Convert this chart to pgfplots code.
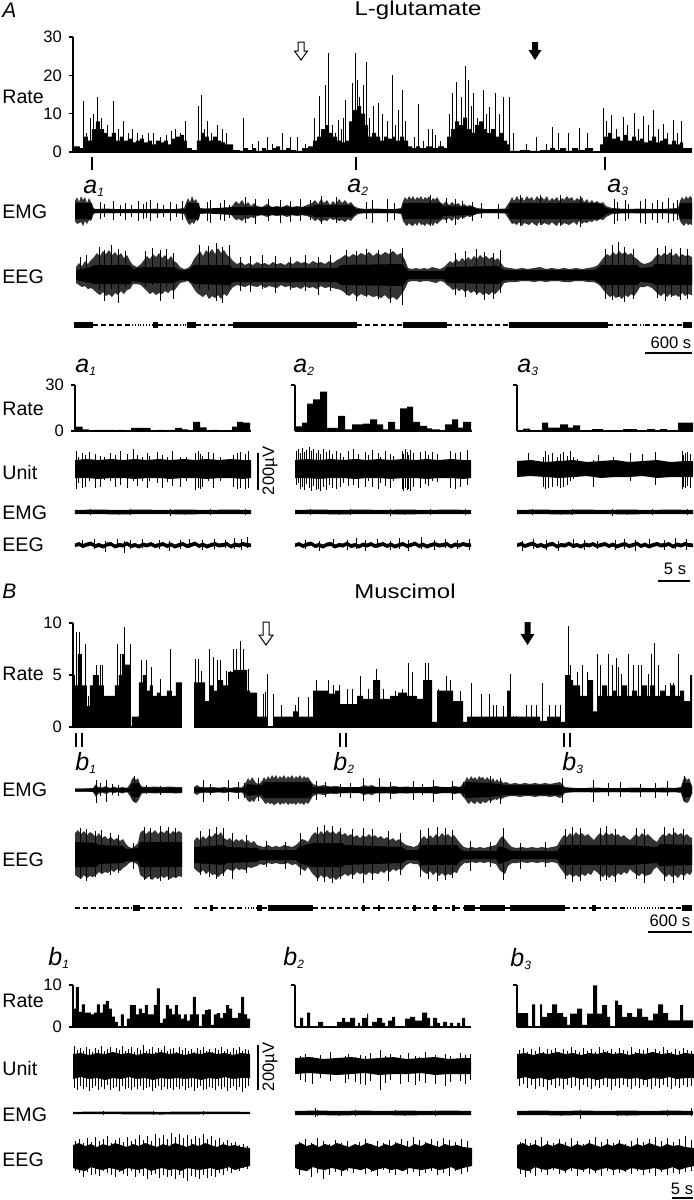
\documentclass[border=0pt]{standalone}
\usepackage{fontspec}
\setmainfont{Liberation Sans}
\usepackage{pgfplots}
\usepackage{pgfplotstable}
\pgfplotsset{compat=1.18}

\newcommand\tkf{\fontsize{8.3}{10}\selectfont}
\newcommand\lab{\fontsize{9.8}{12}\selectfont}
\newcommand\sub[2]{{\fontsize{12.5}{14}\selectfont\itshape #1}\raisebox{-1.5pt}{\fontsize{6}{7}\selectfont\itshape #2}}
\def\pxu{0.5pt}

\pgfplotsset{
  base/.style={scale only axis, clip=false, enlargelimits=false, x=0.5pt, y=0.5pt, hide axis},
  spk/.style={draw=none, mark=none, error bars/.cd, y dir=both, y explicit, error mark=none,
    error bar style={draw=black, solid, line width=0.45pt}},
  hspk/.style={draw=none, mark=none, error bars/.cd, y dir=plus, y explicit, error mark=none,
    error bar style={draw=black, solid, line width=0.45pt}},
  hist/.style={scale only axis, clip=false, enlargelimits=false, x=0.5pt,
    axis x line*=bottom, axis y line*=left, xtick=\empty,
    tick align=outside, major tick length=2pt,
    axis line style={-, line width=0.6pt, black}, x axis line style={-}, y axis line style={-},
    tick style={line width=0.6pt, black},
    /pgf/number format/assume math mode=true,
    yticklabel style={font=\tkf}},
}

% trace: #1 left px, #2 width px, #3 centre y px, #4 half range, #5 body (x u l), #6 spikes (x u d)
\newcommand\trc[6]{%
\begin{axis}[base, at={(#1*\pxu,-#3*\pxu)}, anchor=west, xmin=0, xmax=#2, ymin=-#4, ymax=#4]
\addplot[fill=black, draw=none] table[x=x,y=u]{#5} \closedcycle;
\addplot[fill=black, draw=none] table[x=x,y=l]{#5} \closedcycle;
\addplot[spk] table[x=x, y expr=0, y error plus=u, y error minus=d]{#6};
\end{axis}}
% long trace: hairy envelope #5 (dark grey), solid core #6, spikes #7
\newcommand\trcc[7]{%
\begin{axis}[base, at={(#1*\pxu,-#3*\pxu)}, anchor=west, xmin=0, xmax=#2, ymin=-#4, ymax=#4]
\addplot[fill=black!80, draw=none] table[x=x,y=u]{#5} \closedcycle;
\addplot[fill=black!80, draw=none] table[x=x,y=l]{#5} \closedcycle;
\addplot[fill=black, draw=none] table[x=x,y=u]{#6} \closedcycle;
\addplot[fill=black, draw=none] table[x=x,y=l]{#6} \closedcycle;
\addplot[spk] table[x=x, y expr=0, y error plus=u, y error minus=d]{#7};
\end{axis}}

% ---------------- panel A, long records ----------------
\pgfplotstableread{
x r
73 1.5
80 1
84 4
88 3
92 6
96 8
100 6
104 5
108 4
112 5
116 3
120 4
124 3
128 3.5
132 2.5
136 3
140 3.5
144 2.5
148 3
152 2
156 3
160 2.5
164 3
168 2
172 3.5
176 4
180 4.5
184 3
187 1
192 0.5
197 3
201 5
205 4
209 3
213 4
217 3
221 2.5
225 2
229 2
233 0.5
240 0.3
244 1
248 0.5
252 1
256 0.3
262 1
266 0.5
272 1
276 1.5
280 0.5
286 1
290 0.5
296 0.3
302 1
308 1.5
313 3
317 4
321 6
325 7
329 5
333 4
337 3
341 2.5
345 3
349 8
353 11
357 12
361 10
365 7
368 4
372 5
376 4
380 3
384 4
388 3.5
392 4
396 3
400 4
404 3
408 1.5
412 1
416 1.5
420 1
426 1.5
432 1
438 1.5
444 1
447 4
451 6
455 8
459 7
463 9
467 6
471 5
475 7
479 8
483 6
487 5
491 6
495 4
499 5
503 3
507 2
510 0.3
520 0.5
530 0.3
540 0.5
550 1
555 0.5
560 1
566 0.3
572 1
578 0.5
585 1
593 0.2
600 2
604 4
608 5
612 3.5
616 4
620 3
624 4.5
628 3
632 4
636 3
640 3.5
644 2.5
648 3
652 4
656 2.5
660 3
664 3.5
668 2
672 3
676 2
680 2.5
683 1
692 1
}\Arm
\pgfplotstableread{
x r
83 13.4
86 5
90 9
93 10
97 14.3
101 9
107 7
113 13.4
118 6
123 8
128 5
132 6
137 5
142 4.5
148 5
153 5
160 4
166 4.5
171 5.5
175 6
180 5
185 8
198 12
201 15
204 6
207 8
211 5
217 7
222 6
226 5
243 9
252 2
258 3
267 4
272 2
282 5
290 4
297 4
305 2
314 9
319 14.5
323 6
325 17.5
328 25.7
332 7
335 5
338 8.3
341 6
343 9
345 13.6
352 18
355 25.7
357 18.8
359 14.4
363 17.5
366 23.6
369 9
373 12
378 12.7
382 10
387 8
392 20
395 7
398 11
402 16.3
405 8
414 4
418 12.5
423 3
428 6
432 6
435 4.4
440 3
449 10
452 15.3
456 18.3
461 14.4
465 22.4
468 18.8
471 12
473 15.3
477 9
483 16.3
486 10
489 11.8
495 15.3
499 10
503 14.4
509 14.4
513 4.9
526 2
536 4
546 2
552 6.4
558 5
568 5
579 6.3
587 5
603 11.6
606 8
611 9.7
616 6
623 9.2
627 7
634 10.3
638 6
643 9.4
648 7
653 11
658 6
663 7.3
667 5
673 8.3
677 5
681 8
}\Ars

\pgfplotstableread{
x u l
75 10 -10
77 14 -13
79 9 -12
81 15 -11
83 11 -15
85 14 -10
87 8 -13
89 13 -9
91 9 -10
93 4 -4
95 2 -2
105 2.5 -2
115 2 -2
125 1.5 -1.5
135 2 -2
145 1.5 -1.5
155 2.5 -2.5
165 1.5 -1.5
175 2 -2
184 3 -3
186 8 -8
188 13 -12
190 9 -14
192 15 -11
194 10 -13
196 12 -9
198 7 -10
200 3 -3
210 2 -2
220 2 -2
230 2.5 -2.5
233 6 -6
236 10 -9
239 7 -8
242 11 -10
245 6 -7
248 9 -8
251 5 -6
254 8 -7
257 5 -5
262 4 -4
267 7 -6
272 4 -4
277 5 -5
282 4 -4
287 6 -6
292 4 -4
297 5 -5
302 4 -4
307 6 -5
312 8 -7
315 11 -10
318 7 -8
321 12 -11
324 8 -9
327 11 -10
330 6 -7
333 10 -9
336 7 -8
339 12 -10
342 8 -9
345 11 -11
348 7 -8
351 9 -10
354 5 -6
358 3 -3
365 2 -2
375 2.5 -2
385 2 -2
395 2 -2
401 3 -3
403 10 -10
405 14 -13
407 11 -15
409 15 -12
411 12 -14
413 15 -15
415 11 -12
417 14 -15
419 12 -11
421 15 -14
423 11 -13
425 14 -15
427 12 -12
429 15 -14
431 10 -12
433 13 -15
435 11 -11
437 14 -13
440 9 -10
443 7 -8
446 10 -9
449 6 -7
452 9 -10
455 6 -6
458 8 -9
461 5 -6
464 7 -7
467 5 -5
470 6 -6
474 4 -4
477 3 -3
485 2 -2
495 2 -2
505 2.5 -2.5
510 10 -10
512 14 -13
514 10 -12
517 15 -14
519 11 -11
522 14 -15
524 10 -12
527 15 -13
529 12 -14
532 14 -11
534 10 -13
537 15 -15
539 12 -11
542 14 -14
544 11 -12
547 15 -13
549 10 -14
552 13 -11
554 11 -13
557 14 -15
559 10 -11
562 13 -14
564 11 -12
567 15 -13
569 12 -14
572 14 -12
574 10 -11
577 13 -14
579 11 -10
582 14 -13
584 9 -11
587 12 -12
589 8 -10
592 11 -11
594 8 -9
597 10 -10
600 7 -8
603 9 -9
606 5 -6
612 3 -3
620 2.5 -2.5
630 2 -2
640 2.5 -2.5
650 2 -2
660 2 -2
670 2.5 -2.5
678 3 -3
680 10 -10
682 14 -13
684 11 -15
686 15 -12
688 12 -14
690 15 -13
692 13 -14
}\AemgB
\pgfplotstableread{
x u l
75 8 -8
92 8 -8
93 2 -2
186 2 -2
187 8 -8
199 8 -8
200 2 -2
233 4 -4
312 4 -4
315 6 -6
352 6 -6
356 2 -2
402 2 -2
403 8 -8
440 8 -8
443 5 -5
474 4 -4
477 2 -2
508 2 -2
510 8 -8
600 8 -8
606 3 -3
612 2 -2
679 2 -2
680 8 -8
692 8 -8
}\AemgC
\pgfplotstableread{
x u d
100 9 8
104 7 6
113 10 9
120 6 5
125 8 9
131 6 6
138 10 10
143 7 8
146 9 7
150 11 10
157 8 7
163 6 6
170 9 10
176 7 6
182 10 9
207 9 10
210 11 12
220 8 9
224 11 10
229 6 7
245 14 12
255 12 13
268 12 10
280 11 12
290 10 11
300 12 10
310 11 9
321 15 13
336 14 12
366 9 8
372 11 12
387 12 11
394 8 9
430 16 15
446 13 12
455 12 14
462 10 8
472 9 10
481 8 7
498 7 8
520 16 15
540 16 14
560 16 15
580 15 16
614 12 13
617 9 10
625 11 10
628 7 8
640 10 12
645 12 13
652 8 9
657 11 12
662 9 8
668 13 12
673 8 10
677 11 9
}\AemgS

\pgfplotstableread{
x u l
76 8 -8
79 12 -10
82 9 -12
85 14 -11
88 11 -14
91 15 -13
94 18 -15
97 22 -18
100 19 -20
103 24 -17
106 21 -21
109 25 -19
112 20 -22
115 23 -18
118 19 -20
121 22 -16
124 17 -19
127 20 -15
130 14 -14
133 10 -9
137 8 -9
141 11 -10
144 15 -13
147 19 -16
150 16 -19
153 21 -17
156 18 -20
159 22 -18
162 17 -19
165 20 -16
168 15 -18
171 19 -15
174 14 -16
177 12 -12
180 8 -8
184 6 -7
188 7 -6
191 10 -9
194 16 -14
197 20 -18
200 24 -20
203 19 -22
206 25 -19
209 22 -24
212 26 -21
215 21 -23
218 27 -20
221 22 -24
224 25 -19
227 20 -21
230 18 -16
233 14 -12
237 11 -10
241 13 -11
245 10 -12
249 12 -10
253 10 -11
257 13 -12
261 11 -10
265 12 -13
269 10 -11
273 13 -12
277 11 -13
281 12 -10
285 10 -12
289 13 -11
293 11 -13
297 14 -12
301 12 -14
305 13 -11
309 11 -13
313 14 -12
317 12 -14
321 13 -11
325 11 -13
329 14 -12
333 12 -13
337 15 -14
341 17 -15
345 20 -18
349 18 -21
353 21 -18
357 19 -22
361 22 -19
365 20 -21
369 23 -20
373 19 -22
377 22 -21
381 20 -23
385 23 -20
389 21 -24
393 24 -22
397 20 -25
401 22 -20
405 15 -14
408 7 -7
412 6 -6
416 7 -6
420 6 -7
424 7 -6
428 6 -6
432 8 -7
436 7 -8
440 6 -6
444 8 -7
447 11 -10
450 14 -12
453 12 -15
456 16 -13
459 13 -16
462 17 -14
465 14 -17
468 18 -15
471 15 -18
474 19 -16
477 16 -19
480 20 -17
483 17 -20
486 19 -18
489 16 -20
492 18 -17
495 15 -19
498 17 -16
501 12 -13
504 8 -8
510 7 -7
516 6 -7
522 7 -6
528 6 -6
534 7 -7
540 8 -6
546 6 -7
552 7 -6
558 6 -6
564 7 -7
570 6 -7
576 7 -6
582 6 -6
588 7 -7
594 8 -7
598 10 -9
601 14 -12
604 18 -16
607 21 -19
610 19 -22
613 23 -20
616 20 -23
619 24 -21
622 21 -24
625 23 -20
628 20 -22
631 22 -19
634 18 -21
637 16 -17
640 13 -12
644 11 -12
648 12 -11
652 14 -13
655 18 -16
658 21 -19
661 19 -21
664 22 -18
667 20 -22
670 23 -19
673 19 -21
676 22 -20
679 18 -22
682 21 -18
685 19 -21
688 20 -19
692 18 -20
}\AeegB
\pgfplotstableread{
x u l
76 5 -5
91 8 -8
94 10 -9
130 10 -9
133 6 -6
144 8 -8
174 8 -8
180 5 -5
188 5 -5
194 10 -9
230 10 -10
233 7 -7
337 7 -7
341 10 -10
402 11 -11
405 8 -8
408 4 -4
444 4 -4
447 8 -8
498 9 -9
504 5 -5
594 5 -5
598 7 -7
601 10 -10
637 10 -10
640 7 -7
652 8 -8
655 11 -10
692 10 -10
}\AeegC
\pgfplotstableread{
x u d
80 18 6
86 20 8
99 28 15
104 25 26
111 30 14
118 26 28
125 24 12
145 24 12
152 27 10
160 25 26
166 26 12
173 22 24
199 30 14
208 29 15
216 32 26
222 28 28
229 30 12
240 18 16
250 19 17
262 20 14
275 19 18
290 18 15
305 20 16
318 18 20
330 20 16
346 25 20
356 24 26
366 26 22
378 25 24
390 26 28
402 27 30
455 22 20
465 24 22
476 26 20
484 23 25
493 22 24
500 25 18
605 26 24
612 30 25
618 33 22
624 28 27
633 26 24
657 27 23
665 29 26
671 26 22
680 27 25
687 26 24
}\AeegS

% ---------------- panel A, expanded records (x relative, px) ----------------
\pgfplotstableread{
x r
1 2.8
7.5 1
14 0
20 0.7
26.5 0.7
33 0.7
39.5 0
42 0.7
48 0
56 2
62.5 2
69 2
75.5 0
82 0.7
88.5 0
95 0.7
100 2
107 1
113 0
118 6
125 2.4
131.5 0
137 0.7
143.5 0
157 2.8
162 6
168 5.4
175 5.4
}\haI
\pgfplotstableread{
x r
0 3
7 5.4
12 17.8
18 20.6
25 25.7
32 2
43 9.8
50 1
57 4.3
68 4.8
75 7.6
82 4.3
88 1
93 5.9
100 1
105 14.8
112 15.9
118 5.9
125 3.3
132 1.7
137 1
145 0.4
150 4.3
157 7.6
163 2.2
168 5.9
176 5.9
}\haII
\pgfplotstableread{
x r
0 0
6 1.5
13 0
25 5.4
31 2.2
43 4.3
51 2.2
56 3.7
63 0
75 1.3
86 0
106 1.3
120 0
130 1.3
138 0
143 1.3
150 0
161 5.4
176 5.4
}\haIII

\pgfplotstableread{
x u l
0 9 -9
12 10 -9
24 9 -10
36 10 -9
48 9 -9
60 10 -10
72 9 -9
84 10 -9
96 9 -10
108 10 -9
120 9 -9
132 10 -10
144 9 -9
156 10 -9
168 9 -10
176 9 -9
}\UbA
\pgfplotstableread{
x u l
0 8 -8
14 9 -7
28 7 -8
42 8 -9
56 9 -8
70 7 -7
84 8 -9
98 9 -8
112 7 -8
126 8 -7
140 9 -9
154 7 -8
168 8 -8
176 8 -8
}\UbC
\pgfplotstableread{
x u d
1 18 20
3 12 14
7 16 19
10 14 18
14 17 12
20 15 19
25 13 18
29 12 11
35 16 12
40 14 18
45 18 16
52 15 19
58 20 12
62 14 17
67 12 12
72 16 19
74 13 12
82 17 14
87 14 19
92 12 13
97 18 17
105 12 18
111 12 12
120 16 21
123 18 19
125 15 20
127 13 18
133 17 12
138 16 19
145 12 12
158 14 18
162 16 20
165 17 19
170 15 20
173 18 19
}\UsAi
\pgfplotstableread{
x u d
1 18 16
3 20 14
5 16 20
7 21 18
9 17 21
11 19 15
14 22 19
16 18 22
18 20 17
21 16 21
23 19 20
25 15 22
28 20 18
31 17 21
34 19 16
37 15 19
41 18 20
45 16 18
48 12 14
53 18 17
58 20 16
63 15 19
70 17 18
73 14 12
77 19 18
83 16 20
85 12 14
90 18 17
95 15 19
98 13 12
107 18 20
108 15 22
110 20 19
112 17 21
113 14 20
115 19 22
118 16 18
125 17 19
130 18 15
133 14 17
137 17 12
142 15 13
155 18 19
160 16 20
165 17 18
172 19 16
}\UsAii
\pgfplotstableread{
x u d
11 16 6
26 12 18
28 18 20
31 14 19
35 16 18
40 12 17
43 15 19
46 17 18
50 13 16
53 18 12
56 12 10
60 10 8
76 9 18
81 14 6
96 12 5
113 16 12
125 15 6
138 17 16
165 18 20
166 14 18
168 16 19
170 17 17
173 15 19
}\UsAiii

\pgfplotstableread{
x u l
0 2 -2
22 2.5 -2
44 2 -2.5
66 2.5 -2
88 2 -2
110 2.5 -2.5
132 2 -2
154 2.5 -2
176 2 -2
}\EbA
\pgfplotstableread{
x u d
15 3 3
55 3.5 3
95 3 3.5
135 3.5 3
170 3 3
}\EsA

\pgfplotstableread{
x u l
0 1.5 -2
4 3 -1
8 1 -3
12 2.5 -1.5
16 3.5 -0.5
20 1 -3
24 2 -2
28 0.5 -3.5
32 2.5 -1.5
36 3 -1
40 0.5 -3.5
44 2 -2
48 1.5 -2.5
52 3.5 -0.5
56 1 -3
60 2 -2
64 0.5 -3.5
68 2.5 -1.5
72 1.5 -2.5
76 3 -1
80 1 -3
84 2 -2
88 3 -1
92 1 -3
96 2.5 -1.5
100 0.5 -3.5
104 2 -2
108 3 -1
112 1 -3
116 2 -2
120 3.5 -0.5
124 1 -3
128 2.5 -1.5
132 0.5 -3.5
136 2 -2
140 3 -1
144 1.5 -2.5
148 2 -2
152 3 -1
156 0.5 -3.5
160 2.5 -1.5
164 1.5 -2.5
168 3 -1
172 2 -2
176 1.5 -2
}\GbA
\pgfplotstableread{
x u d
7 5 3
19 6 4
30 4 7
42 6 3
49 4 8
55 5 4
67 6 3
84 5 4
94 4 6
105 5 4
114 6 3
127 5 5
139 6 4
150 5 3
159 7 4
166 6 5
172 8 3
}\GsAi
\pgfplotstableread{
x u d
10 5 4
24 4 6
38 6 3
52 5 5
61 7 4
70 5 6
82 6 3
95 4 5
104 7 4
113 5 6
126 8 4
139 5 5
150 6 3
162 5 4
174 6 5
}\GsAii
\pgfplotstableread{
x u d
5 4 6
16 6 4
29 5 5
41 4 6
56 6 3
67 5 5
80 4 4
98 5 5
107 6 4
118 5 6
132 6 3
147 5 5
158 7 4
169 6 5
}\GsAiii

% ---------------- panel B, long records ----------------
\pgfplotstableread{
x r
73 5
75 4
78 7
82 4
87 2
90 4
93 5
96 5
99 4
102 4
104 3
107 3
111 3
115 4
119 5
122 7
125 6
130 0
132 1
139 4.3
143 5
147 3.5
150 4
153 3
157 3.3
161 3
164 3
167 3.5
172 3
176 4.3
182 4.3
}\BrmI
\pgfplotstableread{
x r
73.5 9.9
76.5 9.1
79 9.1
80.5 7
85 8
88 3
96.5 6
100 6
102.5 6
117 8
120 7
124 9.6
130 8
141.5 6.4
146.5 6.4
151.5 5.8
160 4.6
170.5 7.5
}\BrsI
\pgfplotstableread{
x r
194 4.3
200 4.3
205 2.5
209 4
213 3.5
218 4.5
223 4
228 5.3
233 5.5
240 5.5
247 3.5
250 3.3
257 1
263 1
267 0
273 1
280 1
293 1.5
298 1
302 1
313 3.5
320 3.5
328 3.2
335 3.5
340 2.2
348 2.2
357 3
363 2.7
368 2.7
373 4.5
380 2.7
390 3
398 3.3
407 3
417 2.7
423 4.5
432 0.5
437 3.5
445 3.5
453 2.5
463 0.5
467 1
477 1
487 1
497 1
507 3.5
510 1
523 1
540 0.6
547 1
553 1
560 0.5
565 5
570 4.5
573 4
580 3
587 4.5
593 1.5
597 3
602 4
607 3
612 3.5
617 3
622 4
627 3
632 3.5
637 3
642 4
647 3
650 4
655 3
660 3.5
665 3
670 4
675 3
680 3.5
684 2.5
690 5
692 5
}\BrmII
\pgfplotstableread{
x r
195 6.5
198 6.5
201.5 5.4
209.5 7.5
213 6.7
217 6.4
220 6.4
226.5 5.4
230 5.4
233.5 7.5
236.5 7.5
240 8.3
243.5 7.5
248 5.6
263.5 3.2
265 3.4
267.5 5.1
273.5 3.2
281.5 2.1
295 2.1
298 2.9
308 2.9
316.5 4.5
328 4.5
333 4
339.5 4
347 3.7
352 3.7
360 4.9
368 3.7
376.5 5.6
383 3.7
395 3.5
402 3.7
408 6.2
412.5 5.3
425 6.2
428 6.2
438 3.7
446 4.9
450 4.5
460.5 3.5
471.5 4.2
481.5 3.2
489 3.2
493 2.1
496.5 2.1
503 2
510 5.1
513 1.1
516.5 1.1
526.5 2.1
531.5 2.1
536.5 2.1
542.7 4.2
549 2.1
555 2.1
560 2.1
568 9.7
570 6
577.5 5.3
582.5 6
587.5 5.3
597.5 7
600 6
608.5 7
612.5 6
616.5 6.6
618.5 5.8
621.5 5.1
628 7
633.5 6
638.5 6
641.5 6
648.5 5.1
651.5 7
654 8.1
658.5 6
665 4
670 4.2
673 4.2
678 7
683.5 2.1
}\BrsII

\pgfplotstableread{
x u l
75 1.5 -1.5
85 1.5 -1.5
93 2 -2
96 6 -7
98 3 -4
102 2.5 -2.5
106 4 -4
110 2 -2
114 3.5 -3
118 2 -2
122 3 -3.5
127 2 -2
130 6 -6
132 11 -10
134 13 -12
136 10 -13
138 12 -11
140 6 -7
142 3.5 -3.5
148 3 -3
155 3.5 -3.5
162 3 -3
170 3.5 -3
176 3 -3.5
182 3 -3
}\BemgBi
\pgfplotstableread{
x u l
75 1.5 -1.5
93 1.5 -1.5
96 4 -4
98 2 -2
130 2 -2
132 7 -7
139 7 -7
141 2.5 -2.5
182 2.5 -2.5
}\BemgCi
\pgfplotstableread{
x u d
96 10 13
100 7 6
106 10 12
112 6 5
118 5 6
134 14 12
146 5 4
160 4 5
}\BemgSi
\pgfplotstableread{
x u l
194 3 -3
197 5 -5
200 3 -3
206 2.5 -2.5
212 3 -3
218 2 -2
224 3 -3
230 2 -2
236 3 -3
242 2.5 -2.5
246 8 -8
248 12 -11
250 9 -12
252 13 -10
254 10 -12
256 7 -8
259 6 -6
262 9 -9
264 13 -12
266 10 -14
268 14 -12
270 11 -14
272 15 -13
274 12 -15
276 15 -14
278 11 -12
280 14 -15
282 12 -13
284 15 -14
286 11 -12
288 14 -15
290 12 -13
292 15 -14
294 11 -13
296 14 -15
298 12 -12
300 15 -14
302 11 -13
304 14 -15
306 12 -12
308 13 -14
310 10 -11
313 6 -6
318 4 -4
324 5 -5
330 3.5 -3.5
336 4 -4
342 3 -3
348 3 -3
354 2.5 -2.5
360 3 -3
364 5 -5
368 4 -4
372 5 -5
376 3 -3
382 3.5 -3.5
388 3 -3
394 4 -4
400 3 -3
406 3.5 -3.5
412 3 -3
418 2.5 -2.5
424 3 -3
430 3 -3
436 4 -4
442 3 -3
448 2.5 -2.5
454 4 -4
460 3 -3
465 9 -9
467 13 -12
469 10 -14
471 14 -11
473 11 -13
475 13 -14
477 10 -11
479 14 -13
481 12 -14
483 13 -11
485 10 -13
487 13 -12
489 11 -10
491 9 -11
493 12 -10
495 8 -9
497 11 -10
499 8 -8
501 10 -9
503 7 -8
506 8 -7
510 6 -6
515 7 -6
520 6 -7
525 7 -6
530 6 -6
535 7 -7
540 6 -6
545 7 -6
550 6 -7
555 7 -6
560 8 -8
565 3 -3
575 2 -2
585 2 -2
595 2.5 -2.5
605 2 -2
615 2 -2
625 2 -2
635 2.5 -2.5
645 2 -2
655 2 -2
665 2.5 -2.5
675 2 -2
681 3 -3
683 10 -10
685 13 -12
687 10 -13
689 12 -11
692 4 -4
}\BemgBii
\pgfplotstableread{
x u l
194 2.5 -2.5
245 2 -2
247 6 -6
256 5 -5
262 5 -5
264 8 -8
310 8 -8
313 3 -3
464 3 -3
466 8 -8
490 7 -7
506 5 -5
560 5 -5
565 2 -2
681 2 -2
683 7 -7
690 7 -7
692 3 -3
}\BemgCii
\pgfplotstableread{
x u d
203 10 12
210 6 5
228 10 11
238 8 9
244 7 8
258 12 11
316 9 10
325 8 7
340 6 7
350 7 8
363 12 11
379 12 12
390 8 9
413 9 10
422 6 5
433 10 12
452 9 10
463 8 7
490 14 13
500 12 14
562 12 13
593 10 12
608 7 6
620 8 7
640 6 7
655 7 8
667 9 6
684 14 12
}\BemgSii

\pgfplotstableread{
x u l
75 22 -20
78 25 -22
81 21 -24
84 24 -20
87 20 -23
90 23 -21
93 21 -22
96 18 -20
99 22 -17
102 17 -19
105 19 -17
108 16 -18
111 18 -15
114 15 -17
117 17 -14
120 14 -16
123 16 -13
126 11 -11
129 8 -8
132 7 -7
135 9 -8
138 12 -10
140 22 -20
143 25 -22
146 21 -24
149 24 -21
152 22 -25
155 25 -22
158 21 -24
161 24 -21
164 22 -23
167 25 -21
170 21 -24
173 24 -22
176 22 -23
179 24 -21
182 22 -22
}\BeegBi
\pgfplotstableread{
x u l
75 13 -12
96 12 -12
99 10 -9
123 9 -8
126 6 -6
138 7 -6
140 13 -12
182 13 -12
}\BeegCi
\pgfplotstableread{
x u d
80 27 24
86 26 26
95 24 22
101 25 18
110 22 20
118 20 18
133 12 14
144 28 25
150 27 24
160 29 26
168 28 25
175 27 22
}\BeegSi
\pgfplotstableread{
x u l
194 14 -13
197 18 -16
200 15 -18
203 19 -15
206 16 -19
209 20 -16
212 18 -20
215 22 -19
218 20 -22
221 23 -19
224 17 -18
227 15 -14
230 17 -15
233 13 -16
236 16 -13
239 14 -15
242 16 -14
245 13 -15
248 15 -12
251 12 -13
254 14 -12
257 10 -11
260 9 -9
264 8 -10
268 10 -8
272 8 -9
276 9 -8
280 8 -9
284 10 -9
288 9 -8
292 8 -10
296 10 -9
299 13 -12
302 16 -14
305 15 -16
308 13 -12
312 20 -18
315 23 -21
318 20 -24
321 24 -20
324 21 -23
327 25 -21
330 22 -24
333 24 -22
336 21 -25
339 24 -22
342 20 -21
345 22 -19
348 19 -21
351 21 -19
354 18 -20
357 20 -17
360 17 -19
363 20 -18
366 18 -20
369 21 -17
372 18 -19
375 20 -18
378 17 -19
381 19 -16
384 16 -18
387 18 -15
390 15 -17
393 17 -14
396 14 -16
399 16 -14
402 13 -15
406 10 -10
410 9 -8
414 8 -9
418 10 -9
421 16 -14
424 19 -17
427 16 -19
430 20 -16
433 17 -20
436 21 -17
439 18 -21
442 22 -18
445 19 -21
448 21 -19
451 18 -20
454 20 -17
457 16 -18
460 12 -12
464 8 -8
468 7 -8
472 8 -7
476 7 -8
480 8 -7
484 7 -8
488 8 -7
492 9 -8
496 10 -9
499 15 -14
502 19 -17
505 16 -19
508 12 -11
512 8 -8
517 7 -8
522 8 -7
527 7 -8
532 8 -7
537 7 -8
542 8 -7
547 7 -8
552 8 -7
557 9 -8
561 16 -14
564 20 -18
567 18 -21
570 22 -19
573 19 -22
576 23 -20
579 20 -22
582 22 -19
585 19 -21
588 21 -18
591 18 -20
594 15 -15
597 19 -17
600 22 -20
603 19 -22
606 23 -19
609 20 -23
612 22 -20
615 19 -22
618 21 -18
621 18 -20
624 20 -17
627 17 -19
630 15 -14
633 18 -17
636 21 -19
639 18 -21
642 22 -18
645 19 -21
648 21 -20
651 18 -19
654 15 -14
657 13 -12
660 18 -16
663 21 -19
666 19 -22
669 22 -19
672 20 -22
675 23 -20
678 20 -23
681 22 -19
684 19 -21
687 21 -18
690 18 -20
692 17 -17
}\BeegBii
\pgfplotstableread{
x u l
194 8 -8
224 10 -10
227 8 -8
257 7 -7
260 5 -5
296 5 -5
299 8 -8
312 12 -12
342 12 -12
345 10 -10
402 8 -8
406 5 -5
418 5 -5
421 10 -10
457 10 -10
460 6 -6
464 4 -4
496 4 -4
499 9 -9
508 6 -6
512 4 -4
557 4 -4
561 10 -10
630 10 -10
657 8 -8
660 11 -11
692 10 -10
}\BeegCii
\pgfplotstableread{
x u d
200 24 20
209 26 22
216 28 24
223 27 21
232 22 24
246 20 18
266 14 12
285 13 14
300 22 20
317 28 26
324 30 27
332 29 28
340 27 24
352 26 24
363 27 28
372 26 25
388 24 26
400 22 20
420 25 22
428 27 24
437 28 26
445 27 25
452 25 23
470 14 16
490 13 12
503 27 25
520 12 14
545 13 12
565 26 24
572 28 27
580 27 26
600 27 26
606 29 25
615 26 27
636 27 24
644 26 28
664 28 26
673 27 28
683 26 25
}\BeegSii

% ---------------- panel B, expanded records ----------------
\pgfplotstableread{
x r
0 4.4
3 9.5
6 3.6
9 5.4
12 3.4
15 3.4
18 3
21 3.4
24 5.4
27 3.4
30 5.4
33 6.2
36 4.4
39 2.5
42 1.2
45 0
48 3
51 0
54 2
57 5.2
60 5.2
63 3
66 4.4
69 3.3
72 5.2
75 3
78 3
81 5.2
84 9.2
87 1
90 2
93 5.2
96 4.4
99 3
102 5.2
105 3
108 2
111 3
114 1.5
117 3
120 7.2
123 3
126 0
129 3
132 4
135 4.2
138 0.5
141 3
144 3.3
147 2.2
150 3.3
153 5.2
156 4.4
159 2.2
162 2.2
165 3.3
168 7.2
171 3
174 2
177 2
}\hbI
\pgfplotstableread{
x r
0 0
5 2.2
8 0
12 3.4
15 0
23 1.2
28 0
42 1.2
47 2.2
50 1.2
55 2.2
60 0
63 1
65 0
67 2.2
72 3.2
73 0
77 1.2
82 2.2
87 1
90 0
93 1.5
97 2.4
100 0
110 2
115 2.4
120 1.5
127 3.4
132 2.2
135 0
138 2.2
142 1
145 0
148 1.2
152 0
155 1
158 0
162 1
165 0
167 2.2
170 0
176 0
}\hbII
\pgfplotstableread{
x r
1 3.3
11 0
15 5.4
18 0
23 5.4
25 2.4
30 3.3
35 5.4
40 3.3
46 2.4
50 0.5
53 3.2
60 4.4
65 0.5
70 3.2
76 9.9
80 3.2
85 5.2
90 2.4
93 0
98 6.3
101 5.2
105 2.4
110 3.3
115 2.4
120 4.4
125 2.4
131 1.6
136 3.2
141 5.4
146 3.3
151 1.6
158 1.6
163 5.2
166 1.6
176 1.6
}\hbIII

\pgfplotstableread{
x u l
0 12 -13
8 13 -11
16 11 -13
24 13 -12
32 12 -14
40 14 -12
48 12 -13
56 13 -11
64 11 -13
72 13 -12
80 12 -14
88 14 -12
96 12 -13
104 13 -12
112 11 -13
120 13 -12
128 12 -14
136 14 -12
144 12 -13
152 13 -11
160 11 -13
168 13 -12
177 12 -12
}\UbB
\pgfplotstableread{
x u d
1 20 22
4 16 24
7 18 20
10 15 23
13 19 21
16 17 25
19 14 22
22 18 20
25 16 24
28 20 21
31 15 23
34 17 19
37 19 24
40 14 22
43 18 21
46 16 25
49 20 20
52 15 23
55 17 22
58 19 24
61 14 21
64 18 23
67 16 20
70 21 24
73 15 22
76 17 21
79 19 25
82 14 22
85 18 20
88 16 24
91 20 21
94 15 23
97 17 22
100 18 24
103 14 21
106 19 23
109 16 20
112 18 24
115 15 22
118 17 21
121 14 25
124 18 22
127 16 20
130 19 24
133 15 23
136 17 21
139 14 22
142 18 24
145 16 20
148 19 23
151 15 21
154 17 25
157 14 22
160 18 20
163 16 24
166 19 21
169 15 26
172 17 22
175 16 20
}\UsBi
\pgfplotstableread{
x u d
5 10 14
10 12 16
17 9 18
25 11 12
35 14 15
50 10 17
53 12 13
60 9 16
65 11 18
70 10 19
75 13 15
85 16 24
90 10 17
95 12 14
105 11 18
113 13 16
120 10 19
124 9 15
130 14 17
140 11 18
150 12 20
155 10 16
165 13 15
170 11 18
175 12 14
}\UsBii
\pgfplotstableread{
x u d
2 16 20
6 18 18
10 14 22
14 17 19
18 15 23
22 19 20
26 14 21
30 17 24
34 16 19
38 18 22
42 14 20
46 17 23
50 15 19
54 19 22
58 16 20
62 14 24
66 18 19
70 15 21
74 17 23
78 14 20
82 19 22
86 16 19
90 15 21
94 17 24
98 14 20
102 18 22
106 16 19
110 15 21
114 19 23
118 14 20
122 17 22
126 16 19
130 18 21
134 14 23
138 17 20
142 15 22
146 19 19
150 16 21
154 14 23
158 17 20
162 15 22
166 18 19
170 16 21
174 15 20
}\UsBiii

\pgfplotstableread{
x u l
0 1.2 -1.2
44 1.5 -1.2
88 1.2 -1.5
132 1.5 -1.2
177 1.2 -1.2
}\EbB
\pgfplotstableread{
x u d
30 2 2
80 2 2
130 2 2
}\EsBi
\pgfplotstableread{
x u d
20 5 4
22 3 3
60 3 3
100 3 2
140 3 3
}\EsBii
\pgfplotstableread{
x u d
63 3 6
100 2 3
150 3 3
174 5 3
}\EsBiii

\pgfplotstableread{
x u l
0 12 -11
6 14 -13
12 11 -14
18 13 -10
24 10 -12
30 13 -13
36 11 -11
42 14 -12
48 12 -14
54 10 -11
60 13 -12
66 11 -13
72 14 -11
78 12 -14
84 10 -12
90 13 -11
96 11 -13
102 14 -12
108 12 -14
114 10 -11
120 13 -12
126 11 -13
132 14 -12
138 12 -11
144 10 -13
150 13 -12
156 11 -10
162 12 -13
168 10 -11
177 9 -9
}\GbB
\pgfplotstableread{
x u d
2 16 14
6 18 16
10 14 20
14 19 15
18 15 18
22 20 17
26 16 19
30 18 14
34 21 16
38 14 18
42 17 20
46 19 15
50 15 17
54 20 19
58 16 14
62 18 20
66 22 16
70 17 19
74 21 22
78 16 18
82 23 17
86 19 21
90 22 18
94 18 20
98 24 19
102 20 22
106 23 18
110 19 21
114 22 24
118 18 19
122 21 20
126 19 22
130 23 18
134 18 21
138 21 19
142 17 20
146 19 16
150 15 18
154 17 14
158 14 16
162 15 13
166 12 14
170 13 11
174 11 12
}\GsBi
\pgfplotstableread{
x u d
4 15 18
10 18 14
16 14 20
22 19 16
28 16 22
34 13 18
40 17 15
46 14 19
52 16 14
58 12 16
64 15 13
70 18 17
76 13 15
82 16 19
88 14 13
94 17 16
100 15 18
106 18 14
112 16 17
118 20 15
124 17 19
130 15 16
136 18 14
142 16 18
148 19 16
154 17 19
160 15 14
166 18 17
172 16 15
}\GsBii
\pgfplotstableread{
x u d
3 15 17
8 18 20
13 14 16
18 17 19
24 20 15
30 16 18
36 14 13
42 18 17
48 15 16
54 19 14
60 16 19
66 13 15
72 17 17
78 20 16
84 15 19
90 18 14
96 14 18
102 17 16
108 13 15
114 16 17
120 19 14
126 15 18
132 18 16
138 20 19
144 16 15
150 19 18
156 15 16
162 18 17
168 21 15
174 17 14
}\GsBiii

\begin{document}
\begin{tikzpicture}
\path[use as bounding box] (0,0) rectangle (694*\pxu,-1200*\pxu);

% ===== Panel A =====
\begin{axis}[hist, at={(73*\pxu,-152*\pxu)}, anchor=south west, xmin=73, xmax=692,
  ymin=0, ymax=30, y=1.9167pt, ytick={0,10,20,30}]
\addplot[fill=black, draw=none, const plot] table[x=x,y=r]{\Arm} \closedcycle;
\addplot[hspk] table[x=x, y expr=0, y error plus=r]{\Ars};
\end{axis}

\trcc{0}{692}{211}{20}{\AemgB}{\AemgC}{\AemgS}
\trcc{0}{692}{275}{35}{\AeegB}{\AeegC}{\AeegS}

\begin{axis}[base, at={(0,-325*\pxu)}, anchor=west, xmin=0, xmax=692, ymin=-5, ymax=5, unbounded coords=jump]
\addplot[black, line width=3pt] coordinates {(74,0)(93,0)(95,nan)(153,0)(158,0)(160,nan)(187,0)(196,0)(200,nan)
  (233,0)(357,0)(360,nan)(403,0)(447,0)(450,nan)(509,0)(608,0)(610,nan)(683,0)(692,0)};
\addplot[black, line width=1pt, dash pattern=on 2.5pt off 1.5pt] coordinates {(93,0)(132,0)(140,nan)(158,0)(177,0)(180,nan)
  (196,0)(233,0)(240,nan)(357,0)(403,0)(405,nan)(447,0)(509,0)(510,nan)(608,0)(640,0)(642,nan)(645,0)(683,0)};
\addplot[black, line width=1pt, dash pattern=on 0.5pt off 0.9pt] coordinates {(132,0)(153,0)(155,nan)(177,0)(187,0)(190,nan)(640,0)(645,0)};
\end{axis}

% expanded a1-a3
\begin{axis}[hist, at={(75*\pxu,-431*\pxu)}, anchor=south west, xmin=0, xmax=176,
  ymin=0, ymax=30, y=0.7667pt, ytick={0,30}]
\addplot[fill=black, draw=none, const plot] table[x=x,y=r]{\haI} \closedcycle;
\end{axis}
\begin{axis}[hist, at={(295*\pxu,-431*\pxu)}, anchor=south west, xmin=0, xmax=177,
  ymin=0, ymax=30, y=0.7667pt, ytick={30}, yticklabels={}]
\addplot[fill=black, draw=none, const plot] table[x=x,y=r]{\haII} \closedcycle;
\end{axis}
\begin{axis}[hist, at={(517*\pxu,-431*\pxu)}, anchor=south west, xmin=0, xmax=176,
  ymin=0, ymax=30, y=0.7667pt, ytick={30}, yticklabels={}]
\addplot[fill=black, draw=none, const plot] table[x=x,y=r]{\haIII} \closedcycle;
\end{axis}

\trc{75}{176}{469}{25}{\UbA}{\UsAi}
\trc{295}{177}{469}{25}{\UbA}{\UsAii}
\trc{517}{176}{469}{25}{\UbC}{\UsAiii}
\trc{75}{176}{512}{5}{\EbA}{\EsA}
\trc{295}{177}{512}{5}{\EbA}{\EsA}
\trc{517}{176}{512}{5}{\EbA}{\EsA}
\trc{75}{176}{545}{10}{\GbA}{\GsAi}
\trc{295}{177}{545}{10}{\GbA}{\GsAii}
\trc{517}{176}{545}{10}{\GbA}{\GsAiii}

% ===== Panel B =====
\begin{axis}[hist, at={(73*\pxu,-727*\pxu)}, anchor=south west, xmin=73, xmax=182,
  ymin=0, ymax=10, y=5.2pt, ytick={0,5,10}]
\addplot[fill=black, draw=none, const plot] table[x=x,y=r]{\BrmI} \closedcycle;
\addplot[hspk] table[x=x, y expr=0, y error plus=r]{\BrsI};
\end{axis}
\begin{axis}[hist, at={(194*\pxu,-727*\pxu)}, anchor=south west, xmin=194, xmax=692,
  ymin=0, ymax=10, y=5.2pt, axis y line=none, ytick=\empty]
\addplot[fill=black, draw=none, const plot] table[x=x,y=r]{\BrmII} \closedcycle;
\addplot[hspk] table[x=x, y expr=0, y error plus=r]{\BrsII};
\end{axis}

\trcc{0}{692}{790}{20}{\BemgBi}{\BemgCi}{\BemgSi}
\trcc{0}{692}{790}{20}{\BemgBii}{\BemgCii}{\BemgSii}
\trcc{0}{692}{855}{35}{\BeegBi}{\BeegCi}{\BeegSi}
\trcc{0}{692}{855}{35}{\BeegBii}{\BeegCii}{\BeegSii}

\begin{axis}[base, at={(0,-908*\pxu)}, anchor=west, xmin=0, xmax=692, ymin=-5, ymax=5, unbounded coords=jump]
\addplot[black, line width=3pt] coordinates {(133,0)(140,0)(142,nan)(210,0)(213,0)(215,nan)(257,0)(262,0)(264,nan)
  (268,0)(313,0)(315,nan)(362,0)(365,0)(367,nan)(378,0)(380,0)(382,nan)(413,0)(416,0)(418,nan)(433,0)(437,0)(439,nan)
  (452,0)(455,0)(457,nan)(464,0)(475,0)(477,nan)(480,0)(505,0)(507,nan)(510,0)(565,0)(567,nan)(592,0)(596,0)(598,nan)(682,0)(692,0)};
\addplot[black, line width=1pt, dash pattern=on 2.5pt off 1.5pt] coordinates {(75,0)(128,0)(130,nan)(140,0)(182,0)(185,nan)
  (194,0)(210,0)(211,nan)(213,0)(245,0)(247,nan)(262,0)(268,0)(269,nan)(313,0)(362,0)(363,nan)(365,0)(378,0)(379,nan)
  (380,0)(413,0)(414,nan)(416,0)(433,0)(434,nan)(437,0)(452,0)(453,nan)(455,0)(464,0)(465,nan)(475,0)(480,0)(481,nan)
  (505,0)(510,0)(511,nan)(565,0)(592,0)(593,nan)(596,0)(627,0)(628,nan)(660,0)(682,0)};
\addplot[black, line width=1pt, dash pattern=on 0.5pt off 0.9pt] coordinates {(128,0)(133,0)(135,nan)(245,0)(257,0)(259,nan)(627,0)(660,0)};
\end{axis}

% expanded b1-b3
\begin{axis}[hist, at={(73*\pxu,-1027*\pxu)}, anchor=south west, xmin=0, xmax=177,
  ymin=0, ymax=10, y=2.1pt, ytick={0,10}]
\addplot[fill=black, draw=none, const plot] table[x=x,y=r]{\hbI} \closedcycle;
\end{axis}
\begin{axis}[hist, at={(295*\pxu,-1027*\pxu)}, anchor=south west, xmin=0, xmax=176,
  ymin=0, ymax=10, y=2.1pt, ytick={10}, yticklabels={}]
\addplot[fill=black, draw=none, const plot] table[x=x,y=r]{\hbII} \closedcycle;
\end{axis}
\begin{axis}[hist, at={(517*\pxu,-1027*\pxu)}, anchor=south west, xmin=0, xmax=176,
  ymin=0, ymax=10, y=2.1pt, ytick={10}, yticklabels={}]
\addplot[fill=black, draw=none, const plot] table[x=x,y=r]{\hbIII} \closedcycle;
\end{axis}

\trc{73}{177}{1066}{25}{\UbB}{\UsBi}
\trc{295}{176}{1066}{25}{\UbC}{\UsBii}
\trc{517}{176}{1066}{25}{\UbB}{\UsBiii}
\trc{73}{177}{1113}{5}{\EbB}{\EsBi}
\trc{295}{176}{1113}{5}{\EbA}{\EsBii}
\trc{517}{176}{1113}{5}{\EbA}{\EsBiii}
\trc{73}{177}{1157}{25}{\GbB}{\GsBi}
\trc{295}{176}{1157}{25}{\GbB}{\GsBii}
\trc{517}{176}{1157}{25}{\GbB}{\GsBiii}

% ===== labels, markers, scale bars =====
\begin{scope}[x=0.5pt, y=-0.5pt, every node/.style={inner sep=0pt}]
\node[anchor=west, font=\fontsize{10.5}{12}\selectfont\itshape] at (2,10) {A};
\node[font=\fontsize{10}{12}\selectfont, xscale=1.2] at (418,10) {L-glutamate};
\node[anchor=west, font=\fontsize{10.5}{12}\selectfont\itshape] at (2,591) {B};
\node[font=\fontsize{10}{12}\selectfont, xscale=1.2] at (405,591) {Muscimol};

\foreach \t/\yy in {Rate/97, EMG/212, EEG/277, Rate/409, Unit/472, EMG/513, EEG/545,
  Rate/674, EMG/790, EEG/860, Rate/1001, Unit/1068, EMG/1115, EEG/1160}
  \node[anchor=west, font=\lab] at (2,\yy) {\t};

% open / filled arrows
\draw[line width=0.5pt, fill=white] (298,42)--(304,42)--(304,51)--(307.5,51)--(301,60)--(294.5,51)--(298,51)--cycle;
\fill (532,42)--(538,42)--(538,50)--(541.5,50)--(535,60)--(528.5,50)--(532,50)--cycle;
\draw[line width=0.5pt, fill=white] (263,622)--(269,622)--(269,635)--(273,635)--(266,645)--(259,635)--(263,635)--cycle;
\fill (524.5,622)--(530.5,622)--(530.5,634)--(534.5,634)--(527.5,645)--(520.5,634)--(524.5,634)--cycle;

% segment markers
\draw[line width=1pt] (92,157)--(92,170) (356,157)--(356,170) (605,157)--(605,170);
\draw[line width=0.6pt] (76,733)--(76,747) (82,733)--(82,747) (340,733)--(340,747) (346,733)--(346,747)
  (564,733)--(564,747) (570,733)--(570,747);

\node[anchor=base west] at (83,193) {\sub{a}{1}};
\node[anchor=base west] at (347,192) {\sub{a}{2}};
\node[anchor=base west] at (607,192) {\sub{a}{3}};
\node[anchor=base west] at (75,372) {\sub{a}{1}};
\node[anchor=base west] at (293,372) {\sub{a}{2}};
\node[anchor=base west] at (517,372) {\sub{a}{3}};
\node[anchor=base west] at (75,770) {\sub{b}{1}};
\node[anchor=base west] at (333,770) {\sub{b}{2}};
\node[anchor=base west] at (562,770) {\sub{b}{3}};
\node[anchor=base west] at (48,965) {\sub{b}{1}};
\node[anchor=base west] at (283,965) {\sub{b}{2}};
\node[anchor=base west] at (510,966) {\sub{b}{3}};

% scale bars
\draw[line width=1pt] (645,353)--(692,353);
\node[font=\tkf] at (671,343) {600 s};
\draw[line width=1pt] (648,932)--(692,932);
\node[font=\tkf] at (670,921) {600 s};
\draw[line width=1pt] (658,581)--(690,581);
\node[font=\tkf] at (675,569) {5 s};
\draw[line width=1pt] (672,1198)--(693,1198);
\node[font=\tkf] at (682,1189) {5 s};
\draw[line width=1pt] (258,453)--(258,490);
\node[font=\tkf, rotate=90] at (270,471) {200µV};
\draw[line width=1pt] (258,1045)--(258,1090);
\node[font=\tkf, rotate=90] at (270,1067) {200µV};
\end{scope}
\end{tikzpicture}
\end{document}
